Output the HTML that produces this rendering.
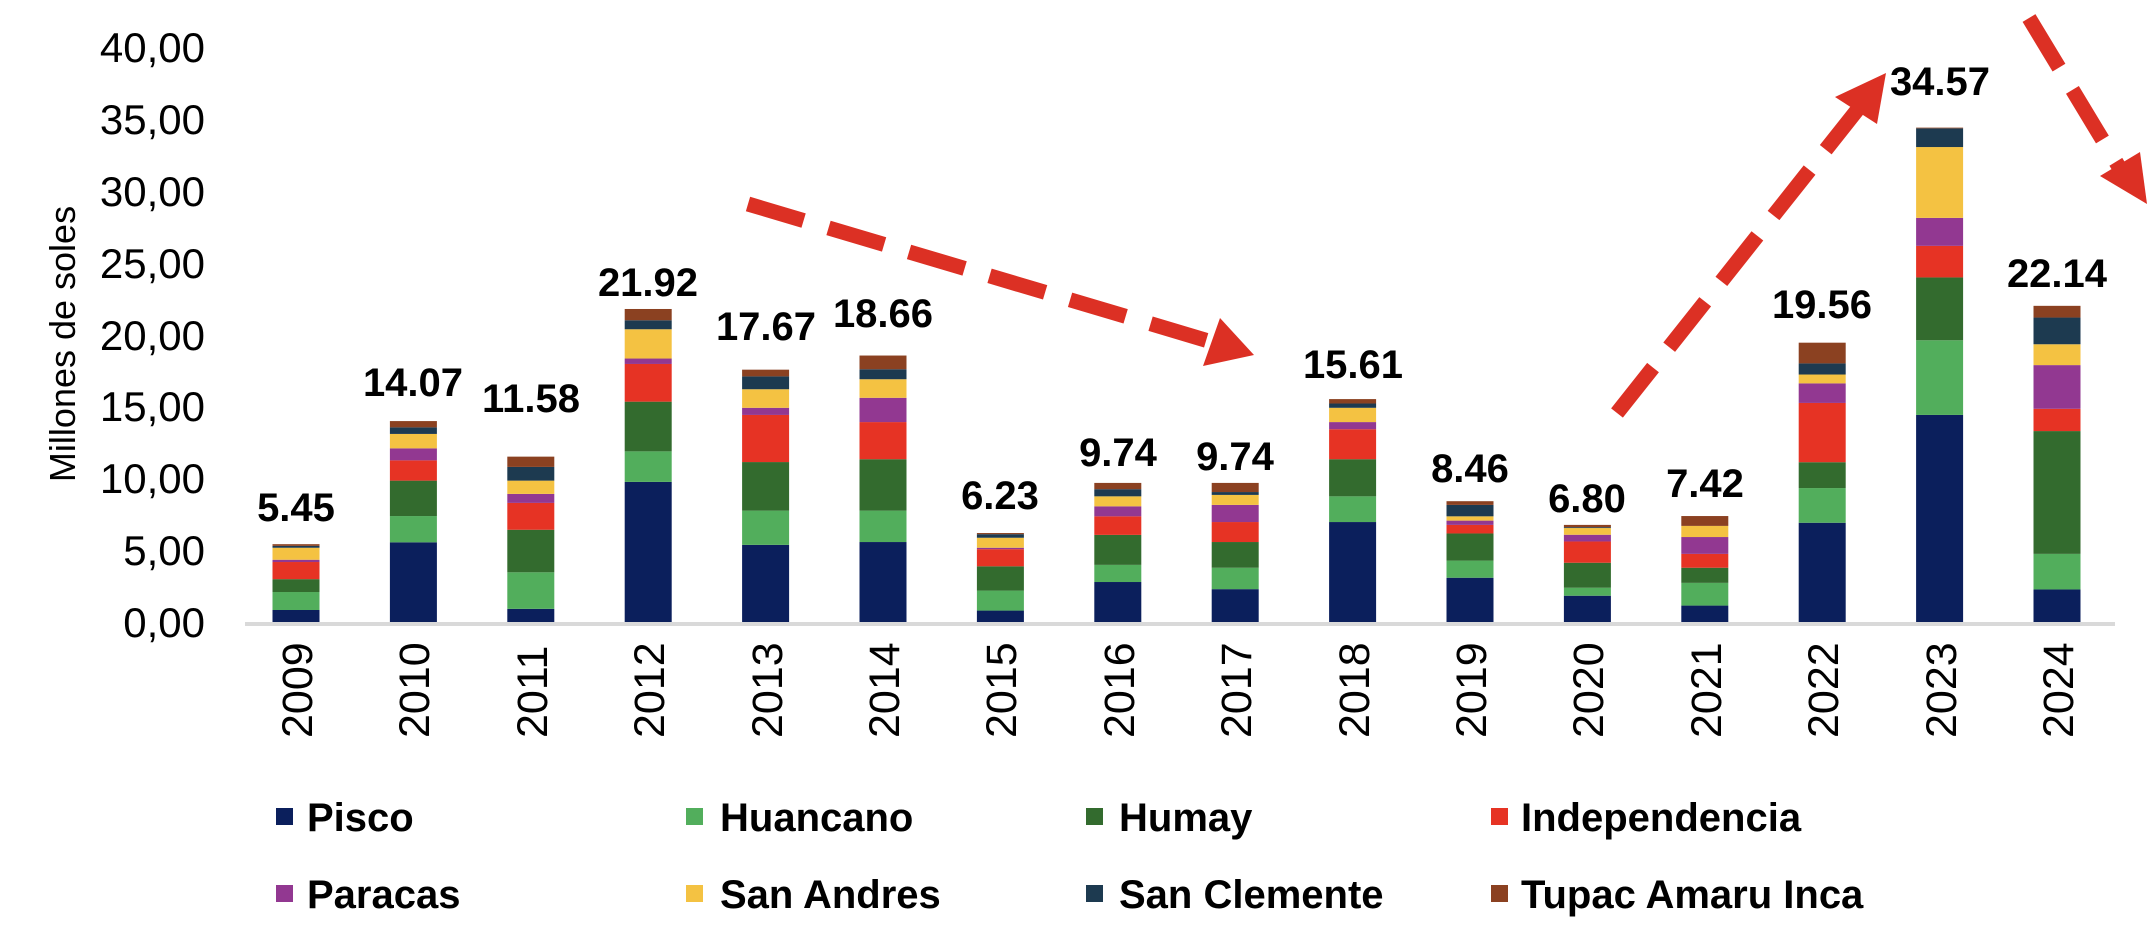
<!DOCTYPE html>
<html><head><meta charset="utf-8"><style>
html,body{margin:0;padding:0;background:#fff;}
svg{display:block;}
text{font-family:"Liberation Sans",Arial,sans-serif;}
.v{font-weight:bold;font-size:40px;text-anchor:middle;fill:#000;}
.y{font-size:42px;text-anchor:end;fill:#000;}
.x{font-size:43px;fill:#000;}
.l{font-weight:bold;font-size:40px;fill:#000;}
</style></head><body>
<svg id="c" width="2149" height="945" viewBox="0 0 2149 945" xmlns="http://www.w3.org/2000/svg">
<g id="bars"></g>
<line x1="245" y1="624" x2="2115" y2="624" stroke="#d9d9d9" stroke-width="4"/>
<g>
<text class="y" x="205" y="62">40,00</text>
<text class="y" x="205" y="134">35,00</text>
<text class="y" x="205" y="206">30,00</text>
<text class="y" x="205" y="278">25,00</text>
<text class="y" x="205" y="350">20,00</text>
<text class="y" x="205" y="421">15,00</text>
<text class="y" x="205" y="493">10,00</text>
<text class="y" x="205" y="565">5,00</text>
<text class="y" x="205" y="637">0,00</text>
</g>
<text transform="translate(75,344) rotate(-90)" style="font-size:36px;text-anchor:middle">Millones de soles</text>
<g>
<text class="x" transform="translate(312,738) rotate(-90)">2009</text>
<text class="x" transform="translate(429,738) rotate(-90)">2010</text>
<text class="x" transform="translate(547,738) rotate(-90)">2011</text>
<text class="x" transform="translate(664,738) rotate(-90)">2012</text>
<text class="x" transform="translate(782,738) rotate(-90)">2013</text>
<text class="x" transform="translate(899,738) rotate(-90)">2014</text>
<text class="x" transform="translate(1016,738) rotate(-90)">2015</text>
<text class="x" transform="translate(1134,738) rotate(-90)">2016</text>
<text class="x" transform="translate(1251,738) rotate(-90)">2017</text>
<text class="x" transform="translate(1369,738) rotate(-90)">2018</text>
<text class="x" transform="translate(1486,738) rotate(-90)">2019</text>
<text class="x" transform="translate(1603,738) rotate(-90)">2020</text>
<text class="x" transform="translate(1721,738) rotate(-90)">2021</text>
<text class="x" transform="translate(1838,738) rotate(-90)">2022</text>
<text class="x" transform="translate(1956,738) rotate(-90)">2023</text>
<text class="x" transform="translate(2073,738) rotate(-90)">2024</text>
</g>
<g>
<text class="v" x="296" y="521">5.45</text>
<text class="v" x="413" y="396">14.07</text>
<text class="v" x="531" y="412">11.58</text>
<text class="v" x="648" y="296">21.92</text>
<text class="v" x="766" y="340">17.67</text>
<text class="v" x="883" y="327">18.66</text>
<text class="v" x="1000" y="509">6.23</text>
<text class="v" x="1118" y="466">9.74</text>
<text class="v" x="1235" y="470">9.74</text>
<text class="v" x="1353" y="378">15.61</text>
<text class="v" x="1470" y="482">8.46</text>
<text class="v" x="1587" y="512">6.80</text>
<text class="v" x="1705" y="497">7.42</text>
<text class="v" x="1822" y="318">19.56</text>
<text class="v" x="1940" y="95">34.57</text>
<text class="v" x="2057" y="287">22.14</text>
</g>
<g>
<rect x="276" y="808" width="17" height="17" fill="#0b1f5c"/><text class="l" x="307" y="831">Pisco</text>
<rect x="686" y="808" width="17" height="17" fill="#52ae5c"/><text class="l" x="720" y="831">Huancano</text>
<rect x="1086" y="808" width="17" height="17" fill="#336b2e"/><text class="l" x="1119" y="831">Humay</text>
<rect x="1491" y="808" width="17" height="17" fill="#e63324"/><text class="l" x="1521" y="831">Independencia</text>
<rect x="276" y="885" width="17" height="17" fill="#923891"/><text class="l" x="307" y="908">Paracas</text>
<rect x="686" y="885" width="17" height="17" fill="#f4c242"/><text class="l" x="720" y="908">San Andres</text>
<rect x="1086" y="885" width="17" height="17" fill="#1d3a50"/><text class="l" x="1119" y="908">San Clemente</text>
<rect x="1491" y="885" width="17" height="17" fill="#8b4121"/><text class="l" x="1521" y="908">Tupac Amaru Inca</text>
</g>
<g stroke="#dc3024" stroke-width="15" fill="none" stroke-dasharray="58 26">
<line x1="748" y1="204" x2="1212" y2="342"/>
<line x1="1617" y1="413" x2="1858" y2="109"/>
<line x1="2029" y1="18" x2="2122" y2="172"/>
</g>
<g fill="#dc3024">
<polygon points="1254,355 1203,366 1220,318"/>
<polygon points="1886,73 1877,124 1835,97"/>
<polygon points="2147,204 2100,176 2140,152"/>
</g>
</svg>
<script>
var cols=["#0b1f5c","#52ae5c","#336b2e","#e63324","#923891","#f4c242","#1d3a50","#8b4121"];
var d=[
[0.84,2.1,3.0,4.2,4.36,5.2,5.33,5.45],
[5.58,7.42,9.9,11.32,12.16,13.17,13.63,14.07],
[0.92,3.48,6.46,8.34,8.97,9.9,10.86,11.58],
[9.81,11.95,15.43,18.07,18.45,20.5,21.13,21.92],
[5.4,7.8,11.2,14.5,15.0,16.3,17.2,17.67],
[5.6,7.8,11.4,14.0,15.7,17.0,17.7,18.66],
[0.8,2.2,3.9,5.1,5.2,5.9,6.15,6.23],
[2.8,4.0,6.1,7.4,8.1,8.8,9.3,9.74],
[2.3,3.8,5.6,7.0,8.2,8.9,9.1,9.74],
[7.0,8.8,11.4,13.5,14.0,15.0,15.3,15.61],
[3.1,4.3,6.2,6.8,7.1,7.4,8.2,8.46],
[1.84,2.4,4.15,5.64,6.11,6.58,6.64,6.80],
[1.15,2.74,3.8,4.77,5.95,6.73,6.73,7.42],
[6.95,9.38,11.19,15.34,16.71,17.33,18.11,19.56],
[14.5,19.73,24.13,26.34,28.3,33.26,34.57,34.62],
[2.28,4.77,13.37,14.93,17.99,19.45,21.32,22.14]];
var g=document.getElementById("bars"),ns="http://www.w3.org/2000/svg",B=622,U=14.28,W=47;
d.forEach(function(r,i){var cx=296+i*117.4,prev=0;r.forEach(function(v,j){
var e=document.createElementNS(ns,"rect");var y1=B-v*U,y0=B-prev*U;
e.setAttribute("x",cx-W/2);e.setAttribute("y",y1);e.setAttribute("width",W);e.setAttribute("height",Math.max(0,y0-y1));
e.setAttribute("fill",cols[j]);g.appendChild(e);prev=v;});});
</script>
</body></html>
